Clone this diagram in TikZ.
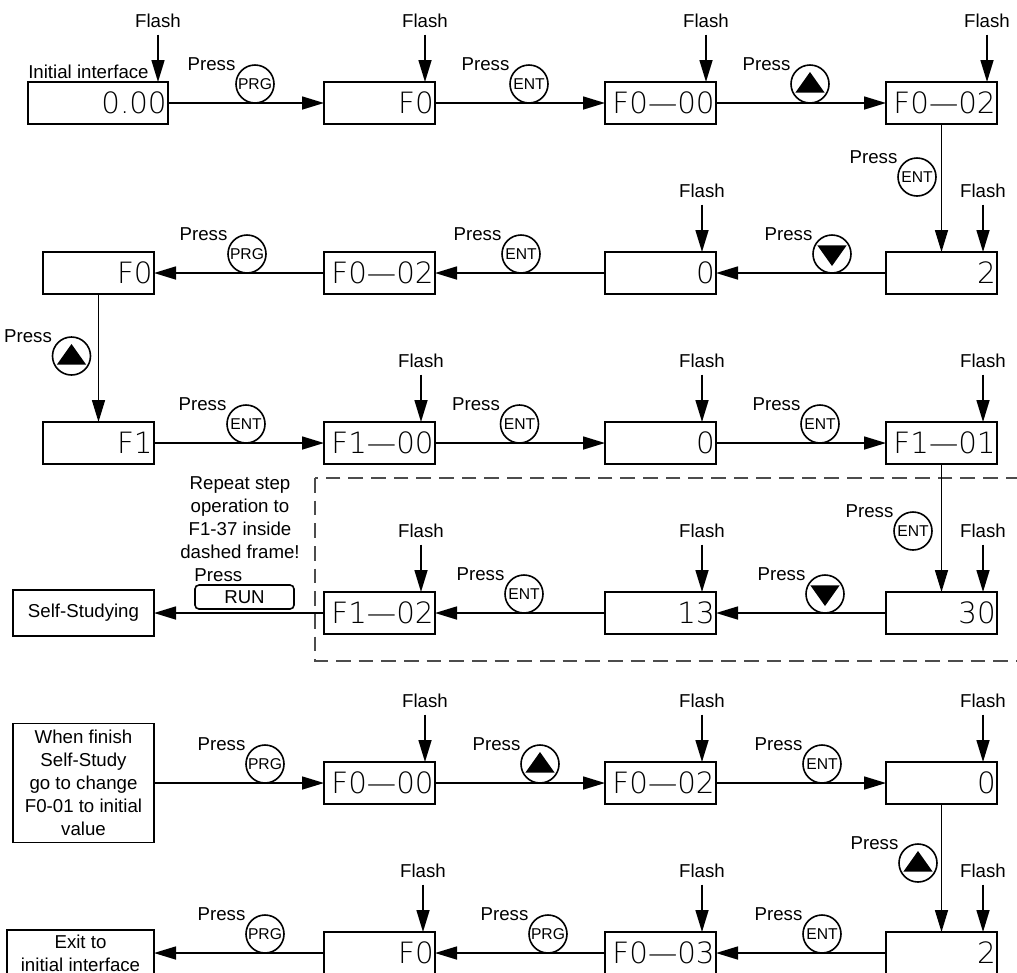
\documentclass[tikz,border=0pt]{standalone}
\usepackage{fontspec}
\setmainfont{Liberation Sans}
\newfontfamily\dispfont{DejaVu Sans ExtraLight}
\usetikzlibrary{positioning, arrows.meta}

\begin{document}
\begin{tikzpicture}[
    x=0.75pt, y=-0.75pt,
    node distance=127.5pt,
    every node/.style={font=\fontsize{14}{17.25}\selectfont},
    disp/.style={
      draw, line width=1.2pt, outer sep=0pt,
      minimum height=31.5pt, text width=#1,
      align=right, inner xsep=1pt, inner ysep=0pt,
      font=\dispfont\fontsize{22}{23}\selectfont,
    },
    disp/.default=81.25pt,
    note/.style={
      draw, line width=1.2pt, outer sep=0pt, align=center, inner sep=0pt,
    },
    btn/.style={
      circle, draw, line width=1.2pt, fill=white,
      minimum size=28.5pt, inner sep=0pt,
      font=\fontsize{11.75}{11.75}\selectfont,
    },
    upbtn/.style={btn, path picture={
      \fill[black] ([yshift=9pt]path picture bounding box.center)
        -- ++(-11pt,-15.5pt) -- ++(22pt,0pt) -- cycle;}},
    dnbtn/.style={btn, path picture={
      \fill[black] ([yshift=-9pt]path picture bounding box.center)
        -- ++(-11pt,15.5pt) -- ++(22pt,0pt) -- cycle;}},
    arr/.style={
      -{Triangle[length=16.5pt, width=9.75pt]}, line width=1.2pt,
    },
    flashlbl/.style={anchor=south, inner sep=0pt},
    presslbl/.style={anchor=base east, inner sep=0pt},
  ]
  \useasboundingbox (0,0) rectangle (1017,972);
  \draw[black!70, line width=0.8pt, dash pattern=on 11pt off 6pt] (315,478) rectangle (1040,661);

  \node[disp=103pt] (a1) at (98,103) {0.00};
  \node[disp, right=117pt of a1] (b1) {F0};
  \node[disp, right=of b1] (c1) {F0—00};
  \node[disp, right=of c1] (d1) {F0—02};
  \node[disp, below=96pt of d1] (d2) {2};
  \node[disp, left=of d2] (c2) {0};
  \node[disp, left=of c2] (b2) {F0—02};
  \node[disp, left=of b2] (a2) {F0};
  \node[disp, below=96pt of a2] (a3) {F1};
  \node[disp, right=of a3] (b3) {F1—00};
  \node[disp, right=of b3] (c3) {0};
  \node[disp, right=of c3] (d3) {F1—01};
  \node[disp, below=96pt of d3] (d4) {30};
  \node[disp, left=of d4] (c4) {13};
  \node[disp, left=of c4] (b4) {F1—02};
  \node[note, minimum width=105.75pt, minimum height=34.5pt, left=of b4] (ss) {Self-Studying};
  \node[disp, below=96pt of b4] (b5) {F0—00};
  \node[disp, right=of b5] (c5) {F0—02};
  \node[disp, right=of c5] (d5) {0};
  \node[note, minimum width=105.75pt, minimum height=89.25pt, left=of b5] (wf) {When finish\\Self-Study\\go to change\\F0-01 to initial\\value};
  \node[disp, below=96pt of d5] (d6) {2};
  \node[disp, left=of d6] (c6) {F0—03};
  \node[disp, left=of c6] (b6) {F0};
  \node[note, minimum width=110.25pt, minimum height=34.5pt, left=of b6] (ex) {Exit to\\initial interface};

  \node[anchor=base west, inner sep=0pt] (init) at ([yshift=3pt]a1.north west) {Initial interface};
  \node[align=center, inner sep=0pt] (rep) at (240,517.5) {Repeat step\\operation to\\F1-37 inside\\dashed frame!};

  \draw[arr] (a1) -- (b1);
  \draw[arr] (b1) -- (c1);
  \draw[arr] (c1) -- (d1);
  \draw[arr] (d1) -- (d2);
  \draw[arr] (d2) -- (c2);
  \draw[arr] (c2) -- (b2);
  \draw[arr] (b2) -- (a2);
  \draw[arr] (a2) -- (a3);
  \draw[arr] (a3) -- (b3);
  \draw[arr] (b3) -- (c3);
  \draw[arr] (c3) -- (d3);
  \draw[arr] (d3) -- (d4);
  \draw[arr] (d4) -- (c4);
  \draw[arr] (c4) -- (b4);
  \draw[arr] (b4) -- (ss);
  \draw[arr] (wf) -- (b5);
  \draw[arr] (b5) -- (c5);
  \draw[arr] (c5) -- (d5);
  \draw[arr] (d5) -- (d6);
  \draw[arr] (d6) -- (c6);
  \draw[arr] (c6) -- (b6);
  \draw[arr] (b6) -- (ex);

  \node[draw, rounded corners=3pt, line width=1.2pt, fill=white, minimum width=74.25pt, minimum height=18pt, inner sep=0pt] (run) at (244.5,597) {RUN};
  \node[anchor=base west, inner sep=0pt] (trun) at ([yshift=2.25pt]run.north west) {Press};

  \node[btn] (k1) at (255,84) {PRG};
  \node[btn] (k2) at (529,84) {ENT};
  \node[upbtn] (k3) at (810,84) {};
  \node[btn] (k4) at (917,177) {ENT};
  \node[dnbtn] (k5) at (832,254) {};
  \node[btn] (k6) at (521,254) {ENT};
  \node[btn] (k7) at (247,254) {PRG};
  \node[upbtn] (k8) at (71.5,356) {};
  \node[btn] (k9) at (246,424) {ENT};
  \node[btn] (k10) at (519.5,424) {ENT};
  \node[btn] (k11) at (820,424) {ENT};
  \node[btn] (k12) at (913,531) {ENT};
  \node[dnbtn] (k13) at (825,594) {};
  \node[btn] (k14) at (524,594) {ENT};
  \node[btn] (k15) at (265,764) {PRG};
  \node[upbtn] (k16) at (540,764) {};
  \node[btn] (k17) at (822,764) {ENT};
  \node[upbtn] (k18) at (918,863) {};
  \node[btn] (k19) at (822,934) {ENT};
  \node[btn] (k20) at (548,934) {PRG};
  \node[btn] (k21) at (265,934) {PRG};
  \foreach \i in {1,...,21}
    \node[presslbl] (t\i) at ([xshift=-4pt]k\i.north west) {Press};

  \foreach \b/\dx in {a1/10, b1/10, c1/10, d1/10, c2/14, d2/14, b3/14, c3/14, d3/14,
      b4/14, c4/14, d4/14, b5/10, c5/14, d5/14, b6/12, c6/14, d6/14} {
    \node[flashlbl] (fl\b) at ([xshift=-\dx*0.75pt, yshift=40.5pt]\b.north east) {Flash};
    \draw[arr] ([yshift=-5pt]fl\b.south) -- (fl\b.south |- \b.north);
  }
\end{tikzpicture}
\end{document}
